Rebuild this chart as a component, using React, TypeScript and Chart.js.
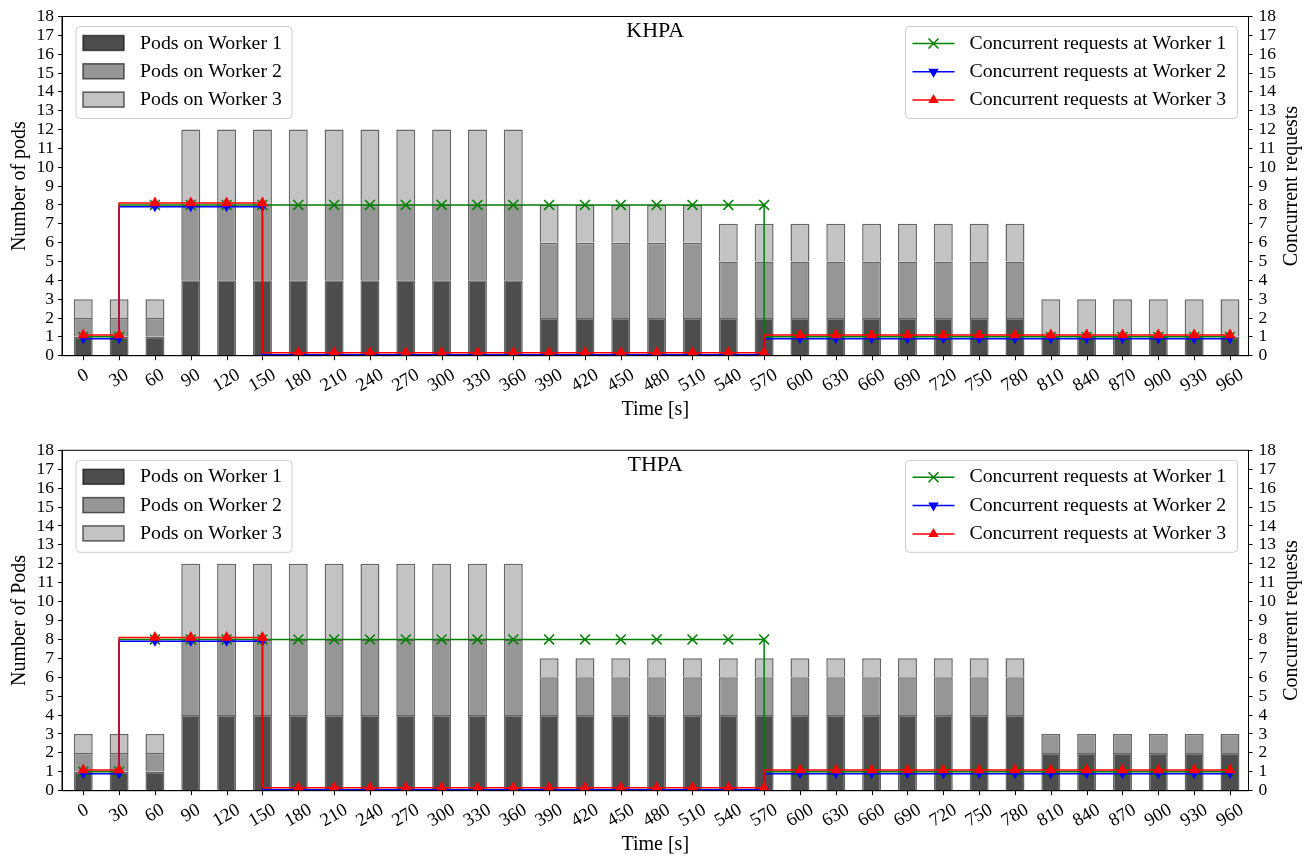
import React, { useEffect, useRef } from "react";
import { Chart, registerables } from "chart.js";

Chart.register(...registerables);

// ---------- data ----------
const TIME = [0, 30, 60, 90, 120, 150, 180, 210, 240, 270, 300, 330, 360, 390, 420, 450, 480, 510, 540, 570, 600, 630, 660, 690, 720, 750, 780, 810, 840, 870, 900, 930, 960];

const KHPA_W1 = [1, 1, 1, 4, 4, 4, 4, 4, 4, 4, 4, 4, 4, 2, 2, 2, 2, 2, 2, 2, 2, 2, 2, 2, 2, 2, 2, 1, 1, 1, 1, 1, 1];
const KHPA_W2 = [1, 1, 1, 4, 4, 4, 4, 4, 4, 4, 4, 4, 4, 4, 4, 4, 4, 4, 3, 3, 3, 3, 3, 3, 3, 3, 3, 0, 0, 0, 0, 0, 0];
const KHPA_W3 = [1, 1, 1, 4, 4, 4, 4, 4, 4, 4, 4, 4, 4, 2, 2, 2, 2, 2, 2, 2, 2, 2, 2, 2, 2, 2, 2, 2, 2, 2, 2, 2, 2];

const THPA_W1 = [1, 1, 1, 4, 4, 4, 4, 4, 4, 4, 4, 4, 4, 4, 4, 4, 4, 4, 4, 4, 4, 4, 4, 4, 4, 4, 4, 2, 2, 2, 2, 2, 2];
const THPA_W2 = [1, 1, 1, 4, 4, 4, 4, 4, 4, 4, 4, 4, 4, 2, 2, 2, 2, 2, 2, 2, 2, 2, 2, 2, 2, 2, 2, 1, 1, 1, 1, 1, 1];
const THPA_W3 = [1, 1, 1, 4, 4, 4, 4, 4, 4, 4, 4, 4, 4, 1, 1, 1, 1, 1, 1, 1, 1, 1, 1, 1, 1, 1, 1, 0, 0, 0, 0, 0, 0];

const REQ_W1 = [1, 1, 8, 8, 8, 8, 8, 8, 8, 8, 8, 8, 8, 8, 8, 8, 8, 8, 8, 8, 1, 1, 1, 1, 1, 1, 1, 1, 1, 1, 1, 1, 1];
const REQ_W2 = [1, 1, 8, 8, 8, 8, 0, 0, 0, 0, 0, 0, 0, 0, 0, 0, 0, 0, 0, 0, 1, 1, 1, 1, 1, 1, 1, 1, 1, 1, 1, 1, 1];
const REQ_W3 = [1, 1, 8, 8, 8, 8, 0, 0, 0, 0, 0, 0, 0, 0, 0, 0, 0, 0, 0, 0, 1, 1, 1, 1, 1, 1, 1, 1, 1, 1, 1, 1, 1];

const POD_LABELS = ["Pods on Worker 1", "Pods on Worker 2", "Pods on Worker 3"];
const REQ_LABELS = ["Concurrent requests at Worker 1", "Concurrent requests at Worker 2", "Concurrent requests at Worker 3"];
const Y_TICKS_MAX = 18;

// ---------- styles ----------
const FONT = "'Liberation Serif', 'Times New Roman', serif";
const POD_COLORS = ["#4d4d4d", "#969696", "#c3c3c3"];
const POD_EDGE = "rgba(0,0,0,0.6)";
const REQ_COLORS = ["#008000", "#0000ff", "#ff0000"];
const REQ_OFFSETS = [0, -0.1, 0.1]; // small visual separation of overlapping step lines
const TICK_FS = 17.5;
const XTICK_FS = 18.5;
const LABEL_FS = 20;
const LEGEND_FS = 19.8;
const TITLE_FS = 22;

const PAGE_W = 1315;
const AREA_LEFT = 62;
const AREA_RIGHT = 1248.5;
const X_MIN = -17.8;
const X_MAX = 975.5;

function shift(v: number, d: number) {
  return v === 0 ? 0.1 + d / 2 : v + d;
}

function drawMarker(ctx: CanvasRenderingContext2D, i: number, x: number, y: number) {
  ctx.save();
  ctx.fillStyle = REQ_COLORS[i];
  ctx.strokeStyle = REQ_COLORS[i];
  ctx.lineWidth = 1.5;
  if (i === 0) {
    const r = 5;
    ctx.beginPath();
    ctx.moveTo(x - r, y - r);
    ctx.lineTo(x + r, y + r);
    ctx.moveTo(x - r, y + r);
    ctx.lineTo(x + r, y - r);
    ctx.stroke();
  } else {
    const r = 6;
    const dir = i === 1 ? 1 : -1;
    ctx.beginPath();
    ctx.moveTo(x, y + dir * r);
    ctx.lineTo(x - r * 0.866, y - dir * r * 0.5);
    ctx.lineTo(x + r * 0.866, y - dir * r * 0.5);
    ctx.closePath();
    ctx.fill();
  }
  ctx.restore();
}

function roundRect(ctx: CanvasRenderingContext2D, x: number, y: number, w: number, h: number, r: number) {
  ctx.beginPath();
  ctx.moveTo(x + r, y);
  ctx.lineTo(x + w - r, y);
  ctx.arcTo(x + w, y, x + w, y + r, r);
  ctx.lineTo(x + w, y + h - r);
  ctx.arcTo(x + w, y + h, x + w - r, y + h, r);
  ctx.lineTo(x + r, y + h);
  ctx.arcTo(x, y + h, x, y + h - r, r);
  ctx.lineTo(x, y + r);
  ctx.arcTo(x, y, x + r, y, r);
  ctx.closePath();
}

function annotPlugin(title: string, ylabel: string) {
  return {
    id: "annot",
    afterDraw(chart: any) {
      const ctx: CanvasRenderingContext2D = chart.ctx;
      const { left, right, top, bottom } = chart.chartArea;
      const xs = chart.scales.x;
      ctx.save();
      // frame
      ctx.strokeStyle = "#000";
      ctx.lineWidth = 1;
      ctx.strokeRect(left, top, right - left, bottom - top);

      // x tick marks and labels rotated 30deg, centred on ticks
      ctx.fillStyle = "#000";
      ctx.beginPath();
      TIME.forEach((t) => {
        const px = Math.round(xs.getPixelForValue(t)) + 0.5;
        ctx.moveTo(px, bottom);
        ctx.lineTo(px, bottom + 4.5);
      });
      ctx.stroke();
      ctx.font = `${XTICK_FS}px ${FONT}`;
      ctx.textAlign = "center";
      ctx.textBaseline = "middle";
      const ang = Math.PI / 6;
      TIME.forEach((t) => {
        const lbl = String(t);
        const w = ctx.measureText(lbl).width;
        const h = XTICK_FS * 1.0;
        const bh = w * Math.sin(ang) + h * Math.cos(ang);
        const px = xs.getPixelForValue(t);
        const py = bottom + 10 + bh / 2;
        ctx.save();
        ctx.translate(px, py);
        ctx.rotate(-ang);
        ctx.fillText(lbl, 0, 0);
        ctx.restore();
      });

      // axis titles
      ctx.font = `${LABEL_FS}px ${FONT}`;
      ctx.fillText("Time [s]", (left + right) / 2, bottom + 54);
      const cy = (top + bottom) / 2;
      ctx.save();
      ctx.translate(20, cy);
      ctx.rotate(-Math.PI / 2);
      ctx.fillText(ylabel, 0, 0);
      ctx.restore();
      ctx.save();
      ctx.translate(1292, cy);
      ctx.rotate(-Math.PI / 2);
      ctx.fillText("Concurrent requests", 0, 0);
      ctx.restore();

      // title
      ctx.font = `${TITLE_FS}px ${FONT}`;
      ctx.fillText(title, (left + right) / 2, top + 15);

      // left legend (pods)
      ctx.font = `${LEGEND_FS}px ${FONT}`;
      ctx.textAlign = "left";
      roundRect(ctx, left + 14, top + 10, 216, 92, 4);
      ctx.fillStyle = "rgba(255,255,255,0.85)";
      ctx.fill();
      ctx.strokeStyle = "#cccccc";
      ctx.lineWidth = 1;
      ctx.stroke();
      POD_LABELS.forEach((lbl, i) => {
        const ry = top + 27 + i * 28.3;
        ctx.fillStyle = POD_COLORS[i];
        ctx.fillRect(left + 21, ry - 8, 41, 15);
        ctx.strokeStyle = POD_EDGE;
        ctx.lineWidth = 1.5;
        ctx.strokeRect(left + 21, ry - 8, 41, 15);
        ctx.fillStyle = "#000";
        ctx.fillText(lbl, left + 78, ry);
      });

      // right legend (requests)
      const bx = right - 343;
      roundRect(ctx, bx, top + 10, 332, 92, 4);
      ctx.fillStyle = "rgba(255,255,255,0.85)";
      ctx.fill();
      ctx.strokeStyle = "#cccccc";
      ctx.lineWidth = 1;
      ctx.stroke();
      REQ_LABELS.forEach((lbl, i) => {
        const ry = top + 27 + i * 28.3;
        ctx.strokeStyle = REQ_COLORS[i];
        ctx.lineWidth = 1.5;
        ctx.beginPath();
        ctx.moveTo(bx + 7, ry);
        ctx.lineTo(bx + 49, ry);
        ctx.stroke();
        drawMarker(ctx, i, bx + 28, ry);
        ctx.fillStyle = "#000";
        ctx.fillText(lbl, bx + 64, ry);
      });
      ctx.restore();
    },
  };
}

type PanelProps = {
  title: string;
  ylabel: string;
  w1: number[];
  w2: number[];
  w3: number[];
  top: number;
  height: number;
  areaTop: number;
  areaBottom: number;
};

function Panel(p: PanelProps) {
  const ref = useRef<HTMLCanvasElement | null>(null);
  useEffect(() => {
    if (!ref.current) return;
    const pods = [p.w1, p.w2, p.w3];
    const reqs = [REQ_W1, REQ_W2, REQ_W3];
    const barDs = pods.map((arr, i) => ({
      type: "bar" as const,
      label: POD_LABELS[i],
      data: TIME.map((t, k) => ({ x: t, y: arr[k] })),
      backgroundColor: POD_COLORS[i],
      borderColor: POD_EDGE,
      borderWidth: 1.5,
      barPercentage: 0.53,
      categoryPercentage: 1,
      stack: "pods",
      xAxisID: "x",
      yAxisID: "y",
      order: 10 + i,
    }));
    const lineDs = reqs.map((arr, i) => ({
      type: "line" as const,
      label: REQ_LABELS[i],
      data: TIME.map((t, k) => ({ x: t, y: shift(arr[k], REQ_OFFSETS[i]) })),
      borderColor: REQ_COLORS[i],
      backgroundColor: REQ_COLORS[i],
      borderWidth: 1.5,
      stepped: "after" as const,
      fill: false,
      pointStyle: i === 0 ? "crossRot" : "triangle",
      pointRotation: i === 1 ? 180 : 0,
      pointRadius: i === 0 ? 7 : i === 1 ? 5.5 : 6.5,
      pointBorderWidth: i === 0 ? 1.5 : 0,
      pointBorderColor: REQ_COLORS[i],
      pointBackgroundColor: REQ_COLORS[i],
      xAxisID: "x",
      yAxisID: "y1",
      order: 2 - i,
    }));
    const tickCommon = { color: "#000", font: { size: TICK_FS, family: FONT }, autoSkip: false };
    const chart = new Chart(ref.current, {
      type: "bar",
      data: { datasets: [...lineDs, ...barDs] as any },
      options: {
        animation: false,
        responsive: false,
        maintainAspectRatio: false,
        layout: { padding: { top: p.areaTop, left: 0, right: 0, bottom: 0 } },
        plugins: { legend: { display: false }, tooltip: { enabled: false }, title: { display: false } },
        scales: {
          x: {
            type: "linear",
            min: X_MIN,
            max: X_MAX,
            offset: false,
            stacked: true,
            afterFit: (s: any) => {
              s.height = p.height - p.areaBottom;
            },
            ticks: { display: false },
            grid: { display: false, offset: false },
            border: { display: true, color: "#000", width: 1 },
          },
          y: {
            type: "linear",
            position: "left",
            min: 0,
            max: Y_TICKS_MAX,
            stacked: true,
            afterFit: (s: any) => {
              s.width = AREA_LEFT;
            },
            ticks: { ...tickCommon, stepSize: 1, padding: 4 },
            grid: { display: true, drawOnChartArea: false, drawTicks: true, tickLength: 4, color: "#000" },
            border: { display: true, color: "#000", width: 1 },
          },
          y1: {
            type: "linear",
            position: "right",
            min: 0,
            max: Y_TICKS_MAX,
            stacked: false,
            afterFit: (s: any) => {
              s.width = PAGE_W - AREA_RIGHT;
            },
            ticks: { ...tickCommon, stepSize: 1, padding: 6 },
            grid: { display: true, drawOnChartArea: false, drawTicks: true, tickLength: 4, color: "#000" },
            border: { display: true, color: "#000", width: 1 },
          },
        },
      } as any,
      plugins: [annotPlugin(p.title, p.ylabel)],
    });
    return () => chart.destroy();
  }, []);
  return (
    <canvas
      ref={ref}
      width={PAGE_W}
      height={p.height}
      style={{ position: "absolute", left: 0, top: p.top, width: PAGE_W, height: p.height, display: "block" }}
    />
  );
}

export default function App() {
  return (
    <div style={{ position: "absolute", left: 0, top: 0, width: PAGE_W, height: 859, background: "#fff" }}>
      <Panel title="KHPA" ylabel="Number of pods" w1={KHPA_W1} w2={KHPA_W2} w3={KHPA_W3} top={0} height={430} areaTop={15} areaBottom={355.7} />
      <Panel title="THPA" ylabel="Number of Pods" w1={THPA_W1} w2={THPA_W2} w3={THPA_W3} top={430} height={429} areaTop={20.3} areaBottom={360.7} />
    </div>
  );
}
